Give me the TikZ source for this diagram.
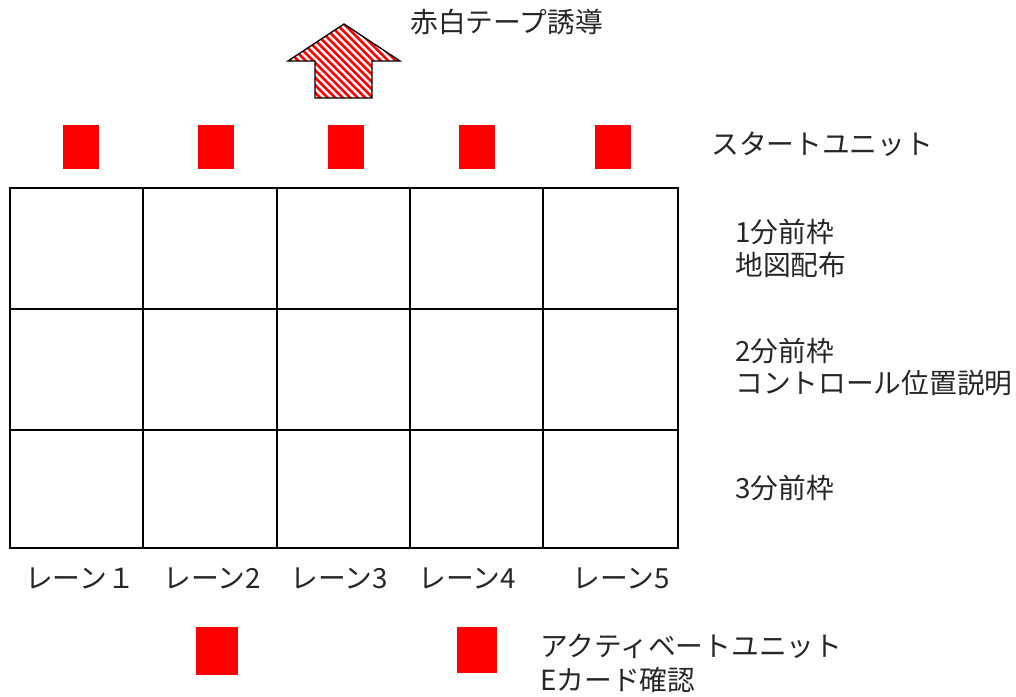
\documentclass[tikz,border=0pt]{standalone}
\usepackage{fontspec}
\setmainfont{Noto Sans CJK JP}
\begin{document}
\begin{tikzpicture}[x=0.75pt,y=-0.75pt,
  lbl/.style={anchor=west,inner sep=0pt,font=\fontsize{20.8pt}{23pt}\selectfont,text=black!85},
  redsq/.style={fill=red,draw=red,inner sep=0pt}]
\useasboundingbox (0,0) rectangle (1016,696);
\fill[white] (0,0) rectangle (1016,696);
% arrow
\path[fill=white] (344,24) -- (400,61) -- (372,61) -- (372,98) -- (315,98) -- (315,61) -- (288,61) -- cycle;
\begin{scope}
\clip (344,24) -- (400,61) -- (372,61) -- (372,98) -- (315,98) -- (315,61) -- (288,61) -- cycle;
\foreach \c in {170,177.5,...,400} \draw[red,line width=1.9pt] (\c,0) -- (\c+130,130);
\end{scope}
\draw[black,line width=1pt,line join=miter] (344,24) -- (400,61) -- (372,61) -- (372,98) -- (315,98) -- (315,61) -- (288,61) -- cycle;
\node[lbl] (tape) at (410,22) {赤白テープ誘導};
% start units
\foreach \x/\n in {81/s1,216/s2,346/s3,477/s4,613/s5}
  \node[redsq,minimum width=26.5pt,minimum height=32pt] (\n) at (\x,146.5) {};
\node[lbl] (start) at (711,144) {スタートユニット};
% grid
\draw[black,line width=1pt] (10,188) rectangle (678,548);
\foreach \x in {143,277,410,543} \draw[black,line width=1pt] (\x,188) -- (\x,548);
\foreach \y in {309,430} \draw[black,line width=1pt] (10,\y) -- (678,\y);
% right labels
\node[lbl] (r1a) at (735,232) {1分前枠};
\node[lbl] (r1b) at (735,265) {地図配布};
\node[lbl] (r2a) at (735,351) {2分前枠};
\node[lbl] (r2b) at (735,383) {コントロール位置説明};
\node[lbl] (r3) at (735,488) {3分前枠};
% lane labels
\node[lbl] (l1) at (25,578) {レーン１};
\node[lbl] (l2) at (163,578) {レーン2};
\node[lbl] (l3) at (290,578) {レーン3};
\node[lbl] (l4) at (418,578) {レーン4};
\node[lbl] (l5) at (572,578) {レーン5};
% activate units
\node[redsq,minimum width=30.5pt,minimum height=35pt] (a1) at (216.5,650.5) {};
\node[redsq,minimum width=29pt,minimum height=34pt] (a2) at (476.5,649.5) {};
\node[lbl] (act) at (540,646) {アクティベートユニット};
\node[lbl] (ecard) at (540,680) {Eカード確認};
\end{tikzpicture}
\end{document}
